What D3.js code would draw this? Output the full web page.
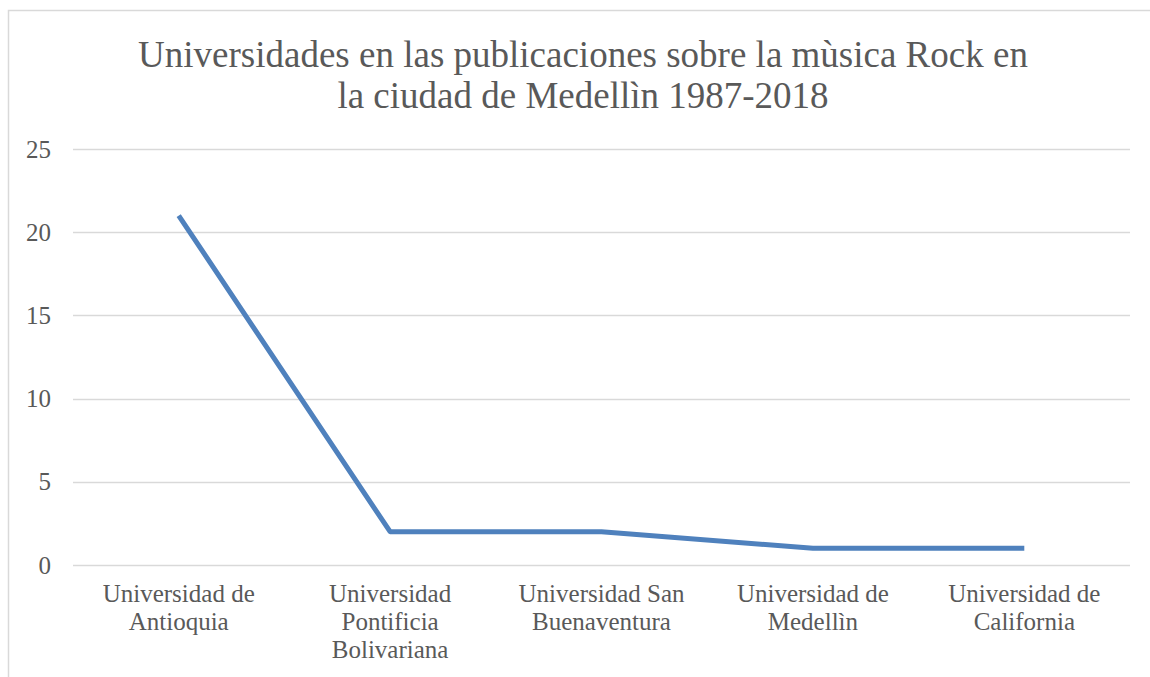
<!DOCTYPE html>
<html>
<head>
<meta charset="utf-8">
<script src="https://cdn.jsdelivr.net/npm/d3@7"></script>
<style>
  html, body { margin: 0; padding: 0; background: #fff; }
</style>
</head>
<body>
<div id="chart-container"></div>
<script>
(function() {
'use strict';

const titleLines = [
  'Universidades en las publicaciones sobre la mùsica Rock en',
  'la ciudad de Medellìn 1987-2018'
];
const categories = [
  'Universidad de Antioquia',
  'Universidad Pontificia Bolivariana',
  'Universidad San Buenaventura',
  'Universidad de Medellìn',
  'Universidad de California'
];
const values = [21, 2, 2, 1, 1];
const yTicks = [0, 5, 10, 15, 20, 25];

const W = 1150;
const H = 677;
const M = { left: 73, right: 20, top: 149, bottom: 112 };
const FONT = 'Liberation Serif';
const TEXT_COLOR = '#595959';

const svg = d3.select('#chart-container')
  .append('svg')
    .attr('width', W)
    .attr('height', H);

// chart frame
svg.append('rect')
  .attr('x', 8.5)
  .attr('y', 10.5)
  .attr('width', W + 10)
  .attr('height', H + 10)
  .attr('fill', 'none')
  .attr('stroke', '#d9d9d9')
  .attr('stroke-width', 1.5);

const xScale = d3.scaleBand()
  .domain(categories)
  .range([M.left, W - M.right]);

const yScale = d3.scaleLinear()
  .domain([0, 25])
  .range([H - M.bottom, M.top]);

function wrap(textSel, maxWidth, lineHeight) {
  textSel.each(function() {
    const text = d3.select(this);
    const words = text.text().split(' ');
    const x = text.attr('x') || 0;
    text.text(null);
    let line = [];
    let tspan = text.append('tspan').attr('x', x).attr('dy', 0);
    words.forEach(w => {
      line.push(w);
      tspan.text(line.join(' '));
      if (tspan.node().getComputedTextLength() > maxWidth && line.length > 1) {
        line.pop();
        tspan.text(line.join(' '));
        line = [w];
        tspan = text.append('tspan').attr('x', x).attr('dy', lineHeight).text(w);
      }
    });
  });
}

// gridlines
svg.append('g')
  .selectAll('line')
  .data(yTicks)
  .enter()
  .append('line')
    .attr('x1', M.left)
    .attr('x2', W - M.right)
    .attr('y1', d => Math.round(yScale(d)) + 0.5)
    .attr('y2', d => Math.round(yScale(d)) + 0.5)
    .attr('stroke', '#d9d9d9')
    .attr('stroke-width', 1.3);

// y axis labels
const yAxis = d3.axisLeft(yScale).tickValues(yTicks).tickSize(0).tickPadding(22);
svg.append('g')
  .attr('id', 'y-axis')
  .attr('transform', `translate(${M.left}, 0)`)
  .call(yAxis)
  .attr('font-family', FONT)
  .attr('font-size', 25)
  .call(g => g.select('.domain').remove())
  .call(g => g.selectAll('text').attr('fill', TEXT_COLOR));

// x axis labels
const xAxis = d3.axisBottom(xScale).tickSize(0).tickPadding(0);
svg.append('g')
  .attr('id', 'x-axis')
  .attr('transform', `translate(0, ${H - M.bottom})`)
  .call(xAxis)
  .attr('font-family', FONT)
  .attr('font-size', 25)
  .call(g => g.select('.domain').remove())
  .call(g => g.selectAll('text')
    .attr('fill', TEXT_COLOR)
    .attr('y', 37)
    .attr('dy', 0)
    .call(wrap, 180, 28));

// line
const line = d3.line()
  .x((d, i) => xScale(categories[i]) + xScale.bandwidth() / 2)
  .y(d => yScale(d));

svg.append('path')
  .datum(values)
  .attr('d', line)
  .attr('fill', 'none')
  .attr('stroke', '#4f81bd')
  .attr('stroke-width', 5)
  .attr('stroke-linejoin', 'round')
  .attr('stroke-linecap', 'butt');

// title
svg.append('g')
  .selectAll('text')
  .data(titleLines)
  .enter()
  .append('text')
    .attr('x', 583)
    .attr('y', (d, i) => 67 + i * 41)
    .attr('text-anchor', 'middle')
    .attr('font-family', FONT)
    .attr('font-size', 37)
    .attr('fill', TEXT_COLOR)
    .text(d => d);

})();
</script>
</body>
</html>
